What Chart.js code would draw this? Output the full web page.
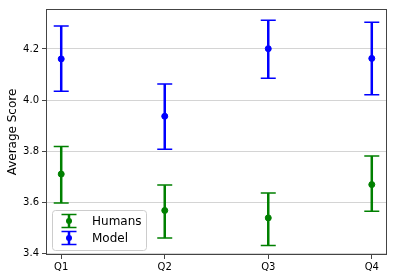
<!DOCTYPE html>
<html>
<head>
<meta charset="utf-8">
<script src="https://cdn.jsdelivr.net/npm/chart.js@4.4.1/dist/chart.umd.min.js"></script>
<style>
  html, body { margin: 0; padding: 0; background: #fff; }
</style>
</head>
<body>
<canvas id="chart" width="420" height="274"></canvas>
<script>
// values
const quarters = ['Q1', 'Q2', 'Q3', 'Q4'];
const humansMean = [3.711, 3.569, 3.540, 3.670];
const humansLow = [3.598, 3.461, 3.432, 3.566];
const humansHigh = [3.819, 3.668, 3.637, 3.782];
const modelMean = [4.161, 3.937, 4.201, 4.163];
const modelLow = [4.035, 3.808, 4.085, 4.021];
const modelHigh = [4.290, 4.063, 4.312, 4.304];
const yTicks = [3.4, 3.6, 3.8, 4.0, 4.2];

const FONT = 'DejaVu Sans';

function toPoints(means) {
    return means.map((v, i) => ({ x: i + 1, y: v }));
}

// vertical error bars with caps, drawn under the markers
const errorBars = {
    id: 'errorBars',
    beforeDatasetsDraw(chart) {
        const ctx = chart.ctx;
        const xs = chart.scales.x, ys = chart.scales.y;
        ctx.save();
        chart.data.datasets.forEach(ds => {
            ds.data.forEach((p, i) => {
                const px = xs.getPixelForValue(p.x);
                const top = ys.getPixelForValue(ds.high[i]);
                const bot = ys.getPixelForValue(ds.low[i]);
                ctx.strokeStyle = ds.borderColor;
                ctx.lineWidth = 2.5;
                ctx.beginPath();
                ctx.moveTo(px, top);
                ctx.lineTo(px, bot);
                ctx.stroke();
                ctx.lineWidth = 1.5;
                ctx.beginPath();
                ctx.moveTo(px - 7.5, top);
                ctx.lineTo(px + 7.5, top);
                ctx.moveTo(px - 7.5, bot);
                ctx.lineTo(px + 7.5, bot);
                ctx.stroke();
            });
        });
        ctx.restore();
    },
    afterDatasetsDraw(chart) {
        const { ctx, chartArea: a } = chart;
        ctx.save();
        ctx.strokeStyle = '#444';
        ctx.lineWidth = 1;
        ctx.strokeRect(a.left + 0.5, a.top + 0.5, a.right - a.left - 1, a.bottom - a.top - 1);
        ctx.restore();
    },
    afterDraw(chart) {
        // matplotlib style legend, lower left inside the axes
        const { ctx, chartArea: a } = chart;
        const lx = a.left + 6, lw = 94, lh = 40;
        const ly = a.bottom - 5 - lh;
        ctx.save();
        ctx.fillStyle = 'rgba(255,255,255,0.8)';
        ctx.strokeStyle = '#cccccc';
        ctx.lineWidth = 1;
        ctx.beginPath();
        ctx.roundRect(lx + 0.5, ly + 0.5, lw, lh, 3);
        ctx.fill();
        ctx.stroke();
        chart.data.datasets.forEach((ds, i) => {
            const cy = ly + 11 + i * 17;
            const cx = lx + 17;
            ctx.strokeStyle = ds.borderColor;
            ctx.lineWidth = 2.5;
            ctx.beginPath();
            ctx.moveTo(cx, cy - 6.5);
            ctx.lineTo(cx, cy + 6.5);
            ctx.stroke();
            ctx.lineWidth = 1.5;
            ctx.beginPath();
            ctx.moveTo(cx - 7.5, cy - 6.5);
            ctx.lineTo(cx + 7.5, cy - 6.5);
            ctx.moveTo(cx - 7.5, cy + 6.5);
            ctx.lineTo(cx + 7.5, cy + 6.5);
            ctx.stroke();
            ctx.fillStyle = ds.borderColor;
            ctx.beginPath();
            ctx.arc(cx, cy, 3, 0, Math.PI * 2);
            ctx.fill();
            ctx.fillStyle = '#000';
            ctx.font = '12px "' + FONT + '"';
            ctx.textBaseline = 'middle';
            ctx.fillText(ds.label, lx + 40, cy + 1);
        });
        ctx.restore();
    }
};

new Chart(document.getElementById('chart'), {
    type: 'scatter',
    data: {
        datasets: [{
            label: 'Humans',
            data: toPoints(humansMean),
            low: humansLow,
            high: humansHigh,
            borderColor: '#008000',
            backgroundColor: '#008000',
            pointRadius: 3,
            pointHoverRadius: 3
        }, {
            label: 'Model',
            data: toPoints(modelMean),
            low: modelLow,
            high: modelHigh,
            borderColor: '#0000ff',
            backgroundColor: '#0000ff',
            pointRadius: 3,
            pointHoverRadius: 3
        }]
    },
    options: {
        responsive: false,
        animation: false,
        devicePixelRatio: 1,
        layout: { padding: { top: 2, right: 33, left: 0, bottom: 0 } },
        plugins: { legend: { display: false }, tooltip: { enabled: false } },
        scales: {
            x: {
                type: 'linear',
                min: 0.853,
                max: 4.147,
                afterBuildTicks: s => { s.ticks = quarters.map((q, i) => ({ value: i + 1 })); },
                afterFit: s => { s.height = 19; },
                ticks: {
                    callback: v => quarters[v - 1],
                    color: '#000',
                    font: { family: FONT, size: 10 },
                    padding: 2,
                    maxRotation: 0
                },
                grid: { drawOnChartArea: false, tickLength: 4, tickColor: '#444' },
                border: { display: false }
            },
            y: {
                min: 3.395,
                max: 4.356,
                afterBuildTicks: s => { s.ticks = yTicks.map(v => ({ value: v })); },
                afterFit: s => { s.width = 46; },
                ticks: {
                    callback: v => v.toFixed(1),
                    color: '#000',
                    font: { family: FONT, size: 10 },
                    padding: 3
                },
                grid: { color: '#d4d4d4', lineWidth: 1, tickLength: 4, tickColor: '#444' },
                border: { display: false },
                title: {
                    display: true,
                    text: 'Average Score',
                    color: '#000',
                    font: { family: FONT, size: 12 },
                    padding: { top: 6, bottom: 0 }
                }
            }
        }
    },
    plugins: [errorBars]
});
</script>
</body>
</html>
